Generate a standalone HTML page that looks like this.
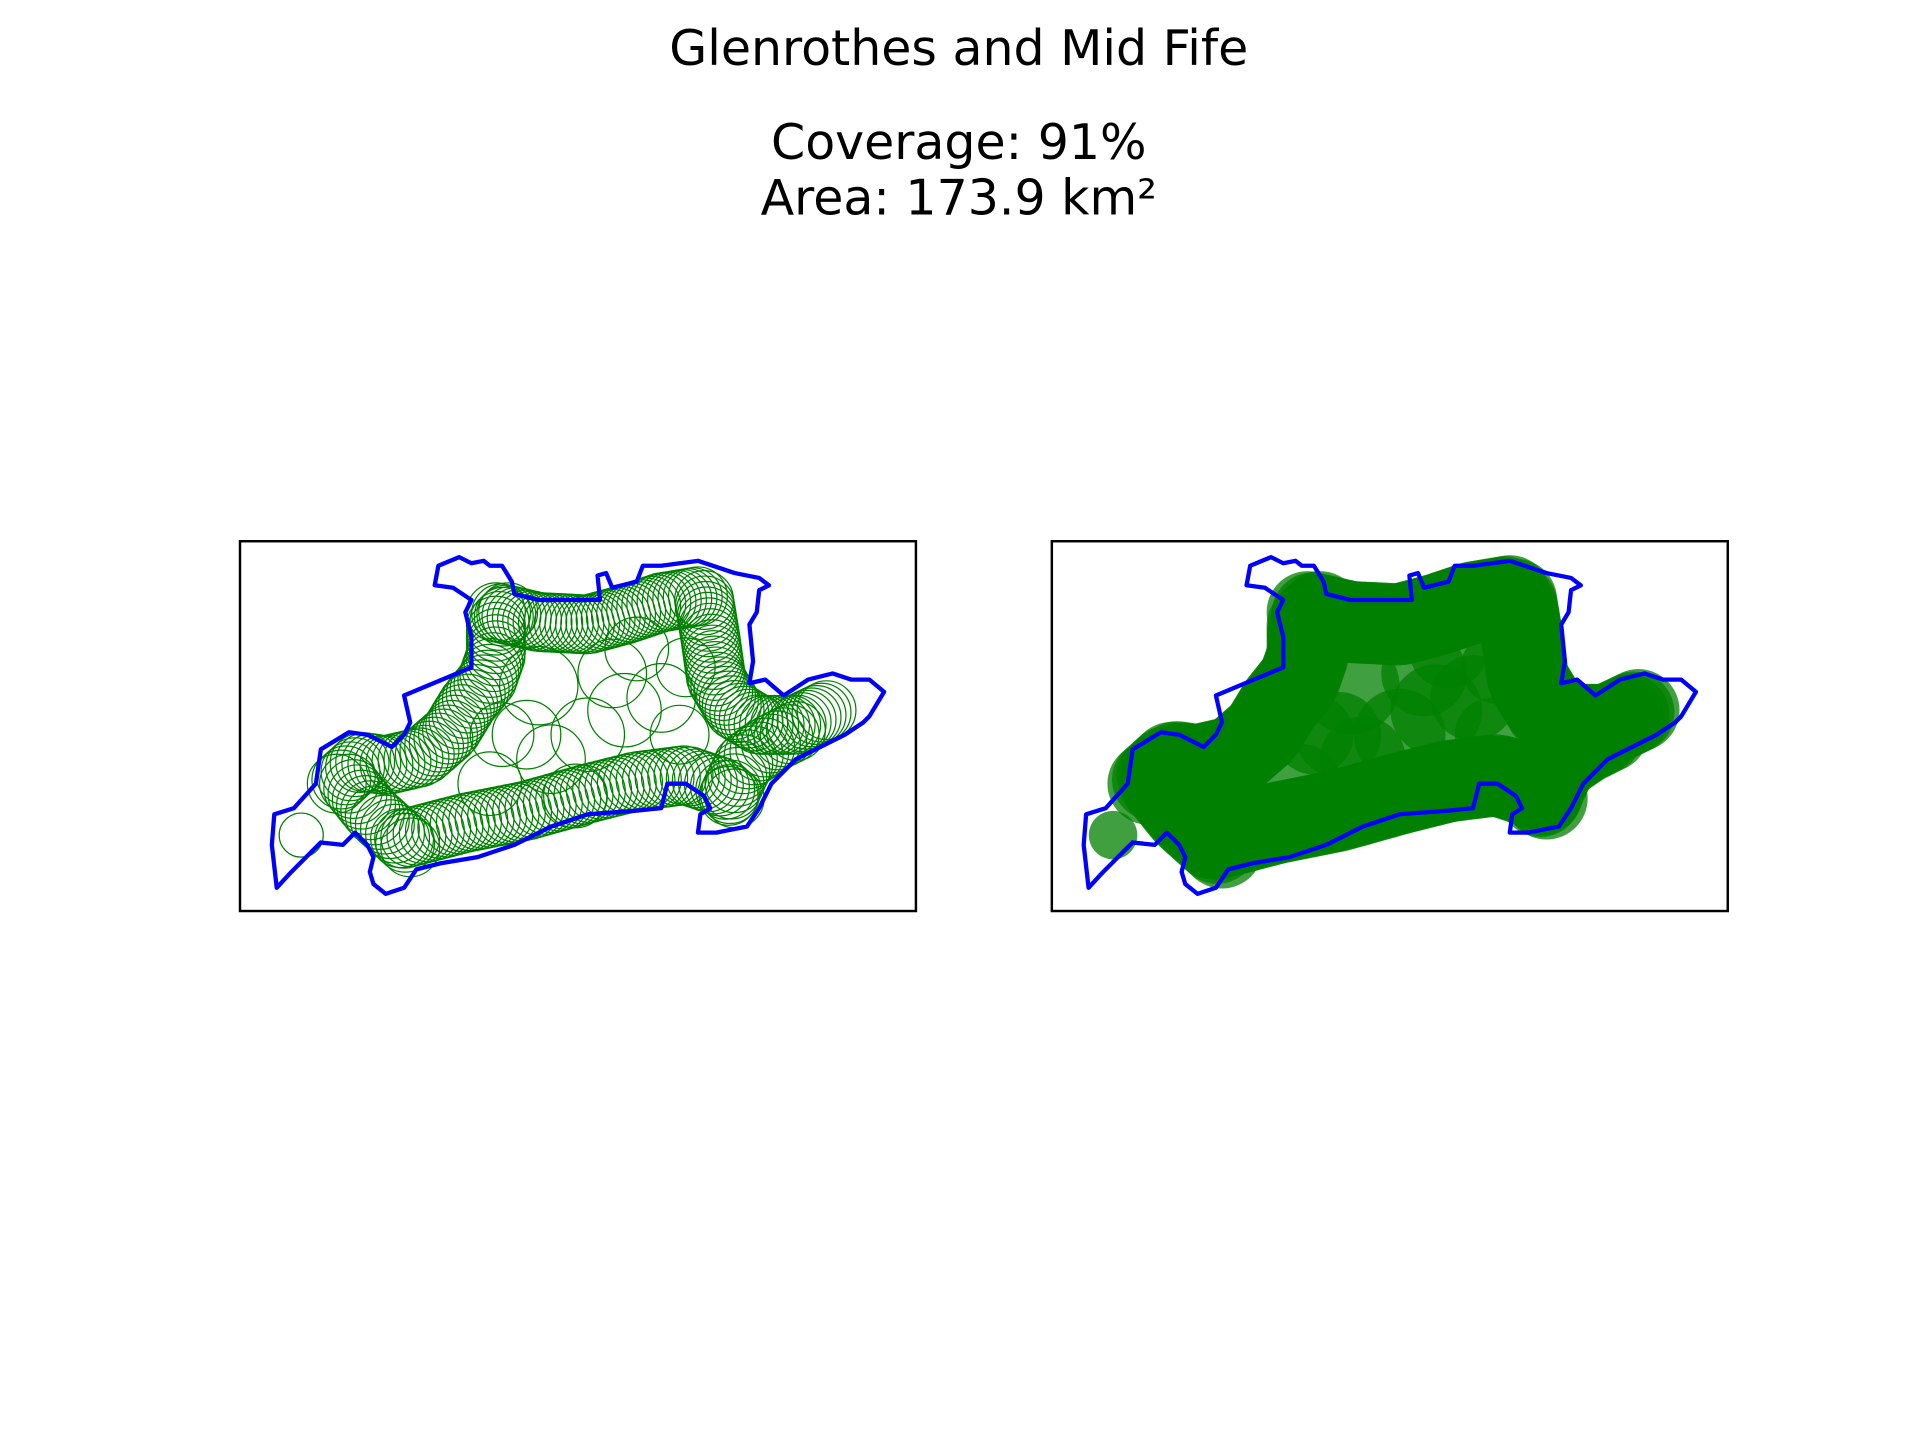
<!DOCTYPE html>
<html><head><meta charset="utf-8"><style>
html,body{margin:0;padding:0;background:#fff;}
svg{display:block;}
text{font-family:"DejaVu Sans","Liberation Sans",sans-serif;fill:#000;}
</style></head><body>
<svg id="fig" width="1920" height="1440" viewBox="0 0 1568 1176" xmlns="http://www.w3.org/2000/svg">
<rect width="1568" height="1176" fill="#fff"/>
<text x="783" y="53" font-size="40" text-anchor="middle">Glenrothes and Mid Fife</text>
<text x="783" y="130" font-size="40" text-anchor="middle">Coverage: 91%</text>
<text x="783" y="175" font-size="40" text-anchor="middle">Area: 173.9 km²</text>
<g id="left"></g>
<g id="right"></g>
</svg>
<script>
const boundaryX=[226,222,224,240,258,262,285,300,320,330,335,330,385,385,380,385,370,355,358,375,385,395,400,410,418,420,440,470,490,488,495,500,520,525,540,570,600,620,628,620,618,612,615,612,625,640,660,680,695,710,722,710,705,690,670,650,630,620,610,595,585,570,572,580,575,560,545,540,520,480,450,420,390,360,340,330,315,305,302,305,300,290,280,262,250,238];
const boundaryY=[725,690,665,660,640,612,598,600,610,600,590,568,545,520,500,490,480,478,462,455,460,458,462,462,475,485,490,490,490,470,468,480,475,462,462,458,468,472,478,482,500,510,540,558,555,568,555,550,555,555,565,585,590,600,610,620,640,660,675,678,680,680,665,660,650,640,640,660,662,665,675,690,700,705,710,725,730,722,712,700,690,680,690,688,700,712];
const chains=[
 {pts:[[330,685],[380,672],[430,662],[480,648],[520,638],[560,633],[590,643],[600,652]],n:55,r:24},
 {pts:[[275,640],[295,622],[315,625],[345,618],[368,598],[382,575],[398,555],[405,535],[405,510],[415,500]],n:45,r:24},
 {pts:[[405,500],[440,508],[480,510],[510,502],[540,492],[570,487]],n:40,r:24},
 {pts:[[575,490],[580,520],[585,555],[600,580],[620,592],[650,592],[675,580]],n:40,r:24},
 {pts:[[595,650],[608,622],[630,607],[650,597]],n:15,r:24},
 {pts:[[285,640],[305,665],[335,692]],n:14,r:24}
];
const bigX=[440,480,510,450,540,500,400,430,520,470,555,410,560];
const bigY=[560,600,580,620,570,550,640,600,530,650,600,600,545];
const bigR=[32,30,30,28,28,28,26,28,26,26,24,26,24];
const loneCircle=[246,682,18];
const NS='http://www.w3.org/2000/svg';
const panels=[{g:document.getElementById('left'),ox:0,filled:false},{g:document.getElementById('right'),ox:663,filled:true}];
function mk(t,a){const e=document.createElementNS(NS,t);for(const k in a)e.setAttribute(k,a[k]);return e;}
function sample(pts,n){const seg=[];let L=0;for(let i=1;i<pts.length;i++){const d=Math.hypot(pts[i][0]-pts[i-1][0],pts[i][1]-pts[i-1][1]);seg.push(d);L+=d;}
 const out=[];for(let k=0;k<n;k++){let t=L*k/(n-1),i=0;while(i<seg.length-1&&t>seg[i]){t-=seg[i];i++;}const f=seg[i]?Math.min(1,t/seg[i]):0;
 out.push([pts[i][0]+(pts[i+1][0]-pts[i][0])*f,pts[i][1]+(pts[i+1][1]-pts[i][1])*f]);}return out;}
panels.forEach(p=>{
 const frame=mk('rect',{x:196+p.ox,y:442,width:552,height:302,fill:'none',stroke:'#000','stroke-width':2});
 
 
 p.g.appendChild(frame);
 const cg=mk('g',{});
 
 
 p.g.appendChild(cg);
 function circ(x,y,r,k){const c=p.filled?mk('circle',{cx:x+p.ox,cy:y,r:r*(k||1.3),fill:'green','fill-opacity':0.75,stroke:'none'}):mk('circle',{cx:x+p.ox,cy:y,r:r,fill:'none',stroke:'green','stroke-width':1});
  
  
  cg.appendChild(c);}
 bigX.forEach((x,i)=>circ(x,bigY[i],bigR[i],1.25));
 chains.forEach(ch=>sample(ch.pts,ch.n).forEach(q=>circ(q[0],q[1],ch.r,1.4)));
 circ(loneCircle[0],loneCircle[1],loneCircle[2],1.1);
 const pts=boundaryX.map((x,i)=>(x+p.ox)+','+boundaryY[i]).join(' ');
 const poly=mk('polygon',{points:pts,fill:'none',stroke:'blue','stroke-width':3.5,'stroke-linejoin':'round'});
 
 
 p.g.appendChild(poly);
});
</script>
</body></html>
